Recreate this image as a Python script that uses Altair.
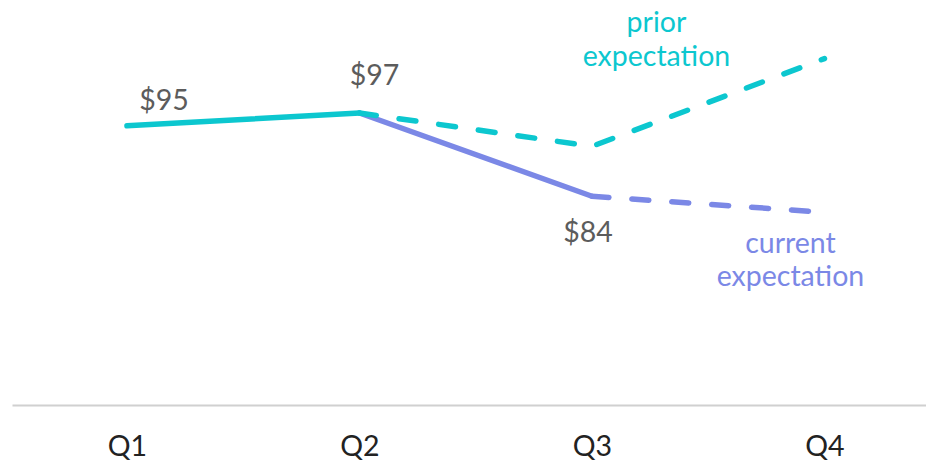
import altair as alt
import pandas as pd

quarters = ["Q1", "Q2", "Q3", "Q4"]
prior = [95, 97, 91.8, 105.5]
current = [95, 97, 84, 81.5]
value_labels = ["$95", "$97", "$84"]

TEAL = "#0cc7cf"
PURPLE = "#7b88e6"
GRAY = "#5c5c5c"
FONT = "Lato"
FS = 28.5
YDOM = [51.4, 113.4]

rows = []
for i in range(0, 2):
    rows.append({"q": quarters[i], "v": prior[i], "seg": "prior_solid"})
for i in range(1, 4):
    rows.append({"q": quarters[i], "v": prior[i], "seg": "prior_dash"})
for i in range(1, 3):
    rows.append({"q": quarters[i], "v": current[i], "seg": "current_solid"})
for i in range(2, 4):
    rows.append({"q": quarters[i], "v": current[i], "seg": "current_dash"})
df = pd.DataFrame(rows)

x = alt.X("q:N", sort=quarters, title=None,
          scale=alt.Scale(type="point", padding=0.4656, align=0.531),
          axis=alt.Axis(domain=True, domainColor="#d0d0d0", domainWidth=2,
                        ticks=False, grid=False, labelAngle=0,
                        labelFont=FONT, labelFontSize=FS, labelColor="#222222",
                        labelPadding=27))
y = alt.Y("v:Q", title=None,
          scale=alt.Scale(domain=YDOM, zero=False, nice=False),
          axis=None)

base = alt.Chart(df).encode(x=x, y=y)


def seg(name, color, dash):
    kw = dict(strokeWidth=5.5, strokeCap="round", color=color)
    if dash:
        kw["strokeDash"] = [17, 23]
    return base.transform_filter(alt.datum.seg == name).mark_line(**kw).encode(
        detail=alt.Detail("seg:N"))


lines = [
    seg("current_solid", PURPLE, False),
    seg("current_dash", PURPLE, True),
    seg("prior_dash", TEAL, True),
    seg("prior_solid", TEAL, False),
]

lab_df = pd.DataFrame({"q": quarters[:3], "v": current[:3], "t": value_labels})
lab_base = alt.Chart(lab_df).encode(x=x, y=y, text="t:N")


def lab(i, dx, dy):
    return lab_base.transform_filter(alt.datum.q == quarters[i]).mark_text(
        font=FONT, fontSize=FS, color=GRAY, align="center",
        baseline="alphabetic", dx=dx, dy=dy)


labels = [lab(0, 37, -16), lab(1, 15, -28), lab(2, -4, 46)]

end_df = pd.DataFrame({"q": [quarters[3]], "p": [prior[3]], "c": [current[3]]})
yscale = alt.Scale(domain=YDOM, zero=False, nice=False)
prior_lab = alt.Chart(end_df).mark_text(
    font=FONT, fontSize=FS, color=TEAL, align="center", baseline="alphabetic",
    dx=-168, dy=-27, lineHeight=34, text=["prior", "expectation"]
).encode(x=x, y=alt.Y("p:Q", scale=yscale, axis=None))
current_lab = alt.Chart(end_df).mark_text(
    font=FONT, fontSize=FS, color=PURPLE, align="center", baseline="alphabetic",
    dx=-34, dy=41, lineHeight=33, text=["current", "expectation"]
).encode(x=x, y=alt.Y("c:Q", scale=yscale, axis=None))

chart = alt.layer(*lines, *labels, prior_lab, current_lab).properties(
    width=914, height=397,
    autosize=alt.AutoSizeParams(type="none"),
    padding={"left": 4, "top": 0, "right": 0, "bottom": 56},
).configure_view(stroke=None)

chart.save("out.html", embed_options={"renderer": "svg", "actions": False})
